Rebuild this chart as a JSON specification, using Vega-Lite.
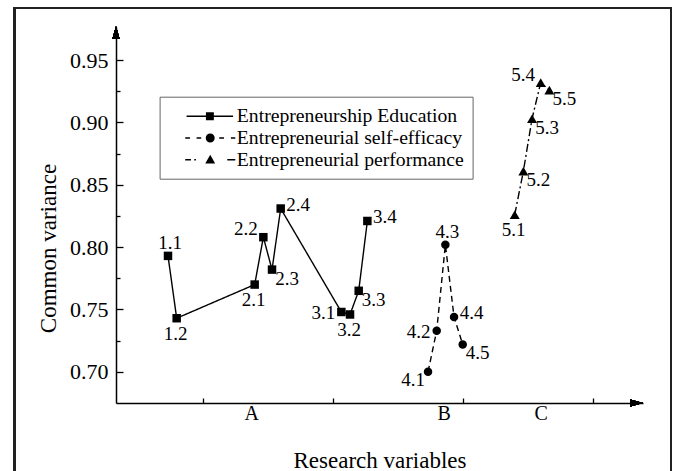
{
  "$schema": "https://vega.github.io/schema/vega-lite/v6.json",
  "width": 527,
  "height": 376,
  "autosize": {"type": "none"},
  "padding": {"left": 116, "top": 27, "right": 30, "bottom": 68},
  "background": "white",
  "config": {
    "view": {"stroke": null},
    "font": "Liberation Serif",
    "axis": {"grid": false, "domainColor": "black", "domainWidth": 1.5, "tickColor": "black", "tickWidth": 1.3, "labelColor": "black", "titleColor": "black", "labelFont": "Liberation Serif", "titleFont": "Liberation Serif", "titleFontWeight": "normal"}
  },
  "datasets": {
    "pts": [
      {"series": "Entrepreneurship Education", "id": "1.1", "x": 6, "y": 0.793, "pos": "top"},
      {"series": "Entrepreneurship Education", "id": "1.2", "x": 7, "y": 0.743, "pos": "bottom"},
      {"series": "Entrepreneurship Education", "id": "2.1", "x": 16, "y": 0.770, "pos": "bottom"},
      {"series": "Entrepreneurship Education", "id": "2.2", "x": 17, "y": 0.808, "pos": "lefttop"},
      {"series": "Entrepreneurship Education", "id": "2.3", "x": 18, "y": 0.782, "pos": "rightbottom"},
      {"series": "Entrepreneurship Education", "id": "2.4", "x": 19, "y": 0.831, "pos": "right"},
      {"series": "Entrepreneurship Education", "id": "3.1", "x": 26, "y": 0.748, "pos": "left"},
      {"series": "Entrepreneurship Education", "id": "3.2", "x": 27, "y": 0.746, "pos": "bottom"},
      {"series": "Entrepreneurship Education", "id": "3.3", "x": 28, "y": 0.765, "pos": "rightbottom"},
      {"series": "Entrepreneurship Education", "id": "3.4", "x": 29, "y": 0.821, "pos": "right"},
      {"series": "Entrepreneurial self-efficacy", "id": "4.1", "x": 36, "y": 0.700, "pos": "leftbottom"},
      {"series": "Entrepreneurial self-efficacy", "id": "4.2", "x": 37, "y": 0.733, "pos": "left"},
      {"series": "Entrepreneurial self-efficacy", "id": "4.3", "x": 38, "y": 0.802, "pos": "top"},
      {"series": "Entrepreneurial self-efficacy", "id": "4.4", "x": 39, "y": 0.744, "pos": "right"},
      {"series": "Entrepreneurial self-efficacy", "id": "4.5", "x": 40, "y": 0.722, "pos": "rightbottom"},
      {"series": "Entrepreneurial performance", "id": "5.1", "x": 46, "y": 0.826, "pos": "bottom"},
      {"series": "Entrepreneurial performance", "id": "5.2", "x": 47, "y": 0.861, "pos": "rightbottom"},
      {"series": "Entrepreneurial performance", "id": "5.3", "x": 48, "y": 0.903, "pos": "rightbottom"},
      {"series": "Entrepreneurial performance", "id": "5.4", "x": 49, "y": 0.932, "pos": "lefttop"},
      {"series": "Entrepreneurial performance", "id": "5.5", "x": 50, "y": 0.926, "pos": "rightbottom"}
    ]
  },
  "data": {"name": "pts"},
  "encoding": {
    "x": {
      "field": "x", "type": "quantitative",
      "scale": {"domain": [0, 60.8], "nice": false, "zero": false},
      "axis": {
        "title": "Research variables", "titleFontSize": 23, "titleY": 64, "titleBaseline": "alphabetic",
        "values": [10, 15.6, 25, 37.8, 40, 49, 55],
        "labelExpr": "datum.value == 15.6 ? 'A' : datum.value == 37.8 ? 'B' : datum.value == 49 ? 'C' : ''",
        "tickOpacity": {"condition": {"test": "datum.value == 15.6 || datum.value == 37.8 || datum.value == 49", "value": 0}, "value": 1},
        "tickSize": -5, "labelPadding": 5, "labelFontSize": 20, "labelBaseline": "top"
      }
    },
    "y": {
      "field": "y", "type": "quantitative",
      "scale": {"domain": [0.675, 0.9766], "nice": false, "zero": false},
      "axis": {
        "title": "Common variance", "titleFontSize": 23, "titleX": -61, "titleY": 221, "titleBaseline": "alphabetic", "titleAngle": -90, "titleAlign": "center",
        "values": [0.7, 0.725, 0.75, 0.775, 0.8, 0.825, 0.85, 0.875, 0.9, 0.925, 0.95],
        "labelExpr": "round(datum.value * 1000) % 50 == 0 ? format(datum.value, '.2f') : ''",
        "tickSize": {"condition": {"test": "round(datum.value * 1000) % 50 != 0", "value": -4}, "value": -7},
        "labelPadding": 15, "labelFontSize": 22, "labelBaseline": "middle"
      }
    }
  },
  "layer": [
    {
      "mark": {"type": "rect", "filled": false, "stroke": "#222", "strokeWidth": 1.5, "clip": false},
      "encoding": {
        "x": {"datum": -11.71},
        "x2": {"datum": 64.03},
        "y": {"datum": 0.9918},
        "y2": {"datum": 0.6132}
      }
    },
    {
      "mark": {"type": "point", "filled": true, "color": "black", "opacity": 0},
      "encoding": {
        "shape": {
          "field": "series", "type": "nominal",
          "scale": {
            "domain": ["Entrepreneurship Education", "Entrepreneurial self-efficacy", "Entrepreneurial performance"],
            "range": [
              "M0.67,-0.065H4.9V0.065H0.67ZM2.43,-0.36H3.15V0.36H2.43Z",
              "M0.55,-0.065H0.98V0.065H0.55ZM1.58,-0.065H2.0V0.065H1.58ZM3.64,-0.065H4.07V0.065H3.64ZM4.7,-0.065H5.1V0.065H4.7ZM2.41,0A0.41,0.41 0 1,0 3.23,0A0.41,0.41 0 1,0 2.41,0Z",
              "M0.55,-0.065H1.07V0.065H0.55ZM1.37,-0.07H1.52V0.07H1.37ZM4.37,-0.065H5.1V0.065H4.37ZM2.82,-0.45L2.37,0.35H3.27Z"
            ]
          },
          "legend": {
            "orient": "none", "legendX": 43.6, "legendY": 69.7, "title": null,
            "padding": 8.6, "strokeColor": "#666", "fillColor": "white",
            "symbolSize": 484, "symbolStrokeWidth": 0, "labelOffset": 46.6,
            "labelFont": "Liberation Serif", "labelFontSize": 19.7, "labelColor": "black", "labelLimit": 0, "rowPadding": 0.7,
            "encode": {"symbols": {"update": {"fill": {"value": "black"}, "strokeWidth": {"value": 0}, "opacity": {"value": 1}}}}
          }
        }
      }
    },
    {
      "mark": {"type": "line", "color": "black", "strokeWidth": 1.4},
      "encoding": {
        "detail": {"field": "series"},
        "order": {"field": "x"},
        "strokeDash": {
          "field": "series", "type": "nominal",
          "scale": {"domain": ["Entrepreneurship Education", "Entrepreneurial self-efficacy", "Entrepreneurial performance"], "range": [[1, 0], [6, 4], [8, 3, 2, 3]]},
          "legend": null
        }
      }
    },
    {
      "transform": [{"filter": "datum.series == 'Entrepreneurship Education'"}],
      "mark": {"type": "point", "filled": true, "color": "black", "opacity": 1, "shape": "square", "size": 72}
    },
    {
      "transform": [{"filter": "datum.series == 'Entrepreneurial self-efficacy'"}],
      "mark": {"type": "point", "filled": true, "color": "black", "opacity": 1, "shape": "circle", "size": 72}
    },
    {
      "transform": [{"filter": "datum.series == 'Entrepreneurial performance'"}],
      "mark": {"type": "point", "filled": true, "color": "black", "opacity": 1, "shape": "triangle-up", "size": 100}
    },
    {
      "mark": {
        "type": "text", "font": "Liberation Serif", "fontSize": 19, "color": "black", "align": "center", "baseline": "middle",
        "dx": {"expr": "datum.pos == 'top' ? 2 : datum.pos == 'bottom' ? -1 : datum.pos == 'left' ? -18 : datum.pos == 'lefttop' ? -17.5 : datum.pos == 'leftbottom' ? -15 : datum.pos == 'right' ? 17.5 : 15"},
        "dy": {"expr": "datum.pos == 'top' ? -13 : datum.pos == 'bottom' ? 15.5 : datum.pos == 'left' ? 1.5 : datum.pos == 'lefttop' ? -8 : datum.pos == 'leftbottom' ? 8 : datum.pos == 'right' ? -3.5 : 9"}
      },
      "encoding": {"text": {"field": "id"}}
    },
    {
      "mark": {"type": "point", "filled": true, "color": "black", "opacity": 1, "shape": "M0,-1L-0.45,0.6L0.45,0.6Z", "size": 256, "clip": false},
      "encoding": {"x": {"datum": 0}, "y": {"datum": 0.9708}}
    },
    {
      "mark": {"type": "point", "filled": true, "color": "black", "opacity": 1, "shape": "M1,0L-0.6,-0.45L-0.6,0.45Z", "size": 256, "clip": false},
      "encoding": {"x": {"datum": 59.88}, "y": {"datum": 0.675}}
    }
  ]
}
